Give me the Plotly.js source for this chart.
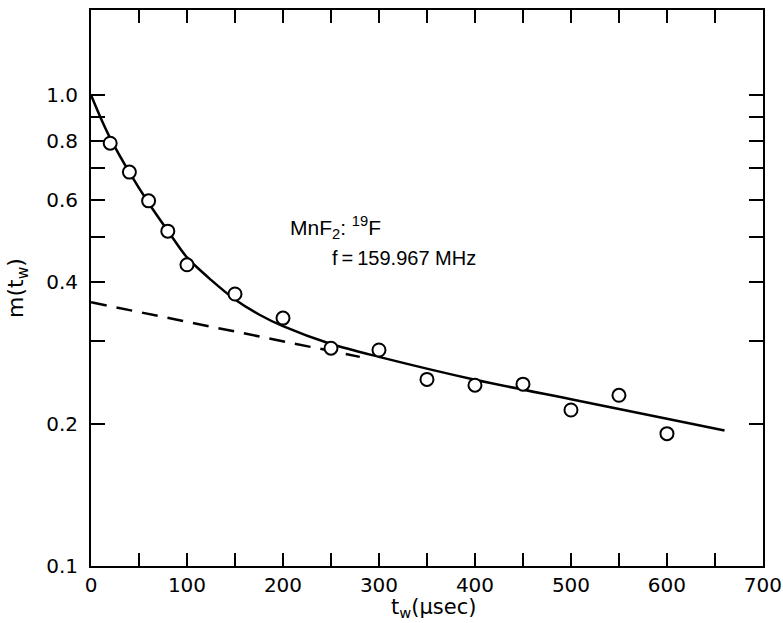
<!DOCTYPE html>
<html>
<head>
<meta charset="utf-8">
<script src="https://cdn.plot.ly/plotly-3.0.1.min.js"></script>
<style>html,body{margin:0;padding:0;background:#fff;}#chart{width:783px;height:623px;}</style>
</head>
<body>
<div id="chart"></div>
<script>
// measured points
const tw = [20, 40, 60, 80, 100, 150, 200, 250, 300, 350, 400, 450, 500, 550, 600];
const m  = [0.79, 0.686, 0.596, 0.514, 0.436, 0.378, 0.336, 0.290, 0.2875, 0.249, 0.242, 0.2433, 0.2144, 0.2304, 0.191];
// solid fitted curve
const fitT = [0, 10, 20, 40, 60, 80, 100, 125, 150, 175, 200, 250, 300, 400, 500, 600, 660];
const fitM = [1.0, 0.895, 0.81, 0.685, 0.59, 0.515, 0.452, 0.405, 0.368, 0.342, 0.323, 0.296, 0.278, 0.2486, 0.226, 0.2055, 0.194];
// dashed long-time component
const dashT = [0, 280];
const dashM = [0.363, 0.278];
// tick labels
const xTickVals = [0, 100, 200, 300, 400, 500, 600, 700];
const xTickText = ['0', '100', '200', '300', '400', '500', '600', '700'];
const xMinorVals = [50, 150, 250, 350, 450, 550, 650];
const yTickVals = [0.1, 0.2, 0.4, 0.6, 0.8, 1.0];
const yTickText = ['0.1', '0.2', '0.4', '0.6', '0.8', '1.0'];
const yMinorVals = [0.3, 0.5, 0.7, 0.9];

const FONT = 'DejaVu Sans, Liberation Sans, sans-serif';
const AFONT = 'Liberation Sans, Arial, sans-serif';

const traces = [
  {x: dashT, y: dashM, mode: 'lines', line: {color: '#000', width: 2.5, dash: '16px,10px'}, hoverinfo: 'skip'},
  {x: fitT, y: fitM, mode: 'lines', line: {color: '#000', width: 2.5, shape: 'spline', smoothing: 0.8}, hoverinfo: 'skip'},
  {x: tw, y: m, mode: 'markers', marker: {symbol: 'circle', size: 13, color: '#fff', line: {color: '#000', width: 2}}}
];

const layout = {
  width: 783, height: 623,
  margin: {l: 91, r: 20, t: 10, b: 57},
  paper_bgcolor: '#fff', plot_bgcolor: '#fff',
  showlegend: false,
  font: {family: FONT, color: '#000', size: 20},
  xaxis: {
    range: [0, 700.05], tickmode: 'array', tickvals: xTickVals, ticktext: xTickText,
    ticks: 'inside', ticklen: 13, tickwidth: 2, tickcolor: '#000',
    minor: {tickmode: 'array', tickvals: xMinorVals, ticks: 'inside', ticklen: 13, tickwidth: 2, tickcolor: '#000', showgrid: false},
    showline: true, linewidth: 2, linecolor: '#000', mirror: 'allticks',
    showgrid: false, zeroline: false,
    tickfont: {family: FONT, size: 20}
  },
  yaxis: {
    type: 'log', range: [-1, 0.1805], tickmode: 'array', tickvals: yTickVals, ticktext: yTickText,
    ticks: 'inside', ticklen: 14, tickwidth: 2, tickcolor: '#000',
    minor: {tickmode: 'array', tickvals: yMinorVals, ticks: 'inside', ticklen: 14, tickwidth: 2, tickcolor: '#000', showgrid: false},
    showline: true, linewidth: 2, linecolor: '#000', mirror: 'allticks',
    showgrid: false, zeroline: false,
    tickfont: {family: FONT, size: 20}, ticklabelstandoff: 7,
    title: {text: 'm(t<sub>w</sub>)', font: {family: FONT, size: 22}, standoff: 16}
  },
  annotations: [
    {xref: 'paper', yref: 'paper', x: 0.293, y: 0.608, xanchor: 'left', yanchor: 'middle', showarrow: false,
     text: 'MnF<sub>2</sub>: <sup>19</sup>F', font: {family: AFONT, size: 21}},
    {xref: 'paper', yref: 'paper', x: 0.355, y: 0.554, xanchor: 'left', yanchor: 'middle', showarrow: false,
     text: 'f\u2009=\u2009159.967 MHz', font: {family: AFONT, size: 20}},
    {xref: 'paper', yref: 'paper', x: 0.509, y: -0.1, xanchor: 'center', yanchor: 'bottom', showarrow: false,
     borderpad: 0, text: 't<sub>w</sub>(μsec)', font: {family: FONT, size: 21}}
  ]
};

Plotly.newPlot('chart', traces, layout, {staticPlot: true, displayModeBar: false});
</script>
</body>
</html>
